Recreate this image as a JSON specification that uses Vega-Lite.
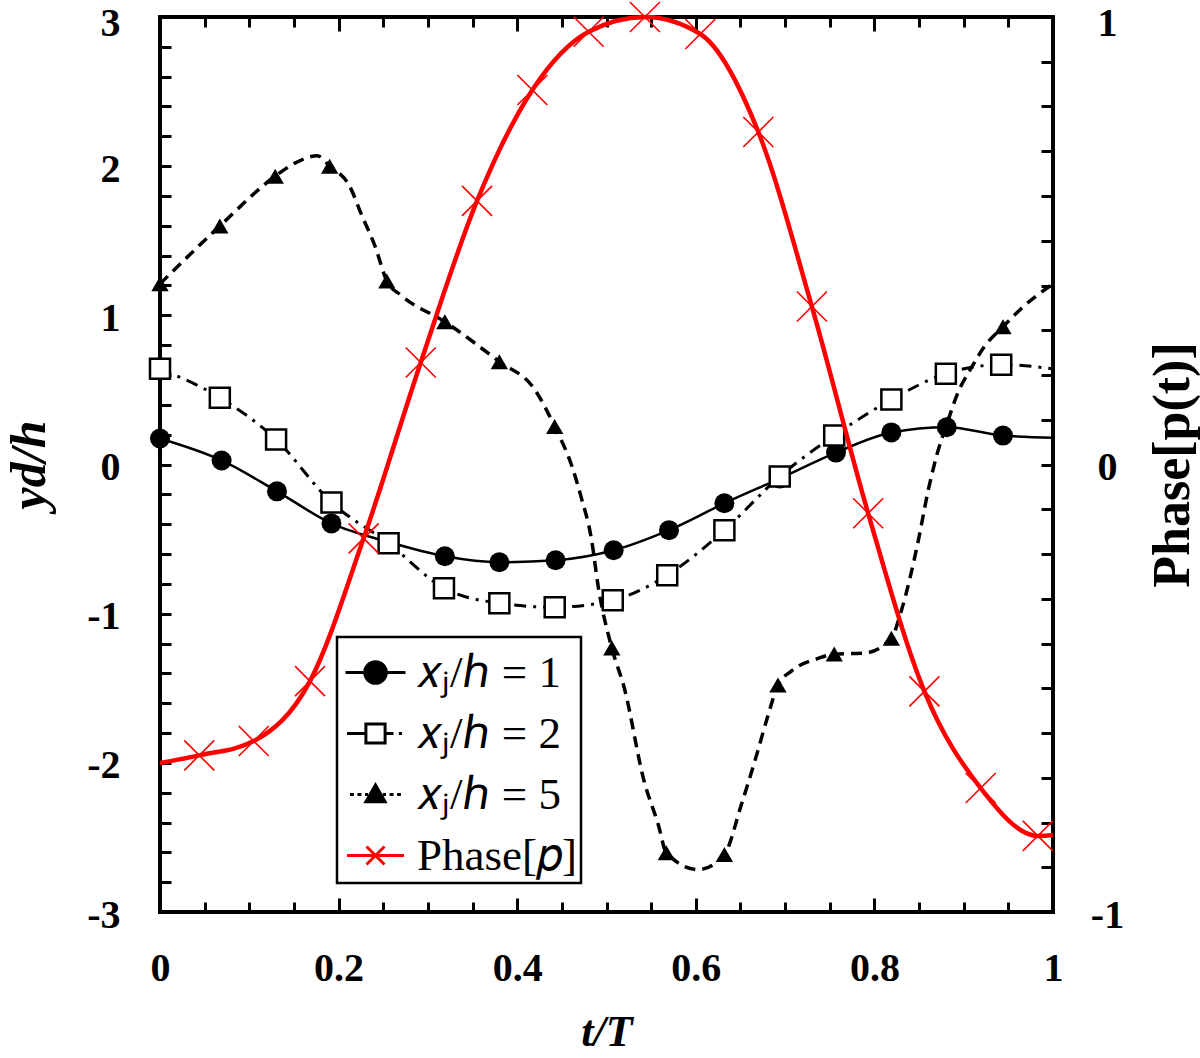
{
  "$schema": "https://vega.github.io/schema/vega-lite/v6.json",
  "width": 893,
  "height": 895,
  "autosize": "none",
  "padding": {"left": 160, "top": 17, "right": 147, "bottom": 146},
  "background": "white",
  "config": {
    "view": {"stroke": "black", "strokeWidth": 4},
    "axis": {
      "grid": false,
      "domain": false,
      "tickColor": "black",
      "tickWidth": 3,
      "labelColor": "black",
      "titleColor": "black",
      "labelFont": "Liberation Serif",
      "titleFont": "Liberation Serif",
      "labelFontWeight": "bold",
      "labelFontSize": 40,
      "titleFontSize": 46,
      "titleFontWeight": "bold",
      "labelFlush": false,
      "labelOverlap": false,
      "labelBound": false
    },
    "legend": {"strokeWidth": 2.5}
  },
  "datasets": {
    "line1": [
      {"t": 0, "v": 0.174}, {"t": 0.069, "v": 0.027}, {"t": 0.131, "v": -0.18},
      {"t": 0.192, "v": -0.395}, {"t": 0.256, "v": -0.52}, {"t": 0.319, "v": -0.615},
      {"t": 0.38, "v": -0.655}, {"t": 0.443, "v": -0.642}, {"t": 0.508, "v": -0.575},
      {"t": 0.57, "v": -0.44}, {"t": 0.632, "v": -0.26}, {"t": 0.694, "v": -0.094},
      {"t": 0.757, "v": 0.08}, {"t": 0.819, "v": 0.215}, {"t": 0.881, "v": 0.25},
      {"t": 0.944, "v": 0.194}, {"t": 1.0, "v": 0.18}
    ],
    "mark1": [
      {"t": 0, "v": 0.174}, {"t": 0.069, "v": 0.027}, {"t": 0.131, "v": -0.18},
      {"t": 0.192, "v": -0.395}, {"t": 0.256, "v": -0.52}, {"t": 0.319, "v": -0.615},
      {"t": 0.38, "v": -0.655}, {"t": 0.443, "v": -0.642}, {"t": 0.508, "v": -0.575},
      {"t": 0.57, "v": -0.44}, {"t": 0.632, "v": -0.26}, {"t": 0.694, "v": -0.094},
      {"t": 0.757, "v": 0.08}, {"t": 0.819, "v": 0.215}, {"t": 0.881, "v": 0.25},
      {"t": 0.944, "v": 0.194}
    ],
    "line2": [
      {"t": 0, "v": 0.642}, {"t": 0.067, "v": 0.448}, {"t": 0.13, "v": 0.167},
      {"t": 0.192, "v": -0.254}, {"t": 0.256, "v": -0.528}, {"t": 0.318, "v": -0.829},
      {"t": 0.38, "v": -0.93}, {"t": 0.442, "v": -0.957}, {"t": 0.507, "v": -0.91},
      {"t": 0.568, "v": -0.742}, {"t": 0.632, "v": -0.44}, {"t": 0.694, "v": -0.08},
      {"t": 0.755, "v": 0.194}, {"t": 0.819, "v": 0.435}, {"t": 0.88, "v": 0.609},
      {"t": 0.942, "v": 0.669}, {"t": 1.0, "v": 0.642}
    ],
    "mark2": [
      {"t": 0, "v": 0.642}, {"t": 0.067, "v": 0.448}, {"t": 0.13, "v": 0.167},
      {"t": 0.192, "v": -0.254}, {"t": 0.256, "v": -0.528}, {"t": 0.318, "v": -0.829},
      {"t": 0.38, "v": -0.93}, {"t": 0.442, "v": -0.957}, {"t": 0.507, "v": -0.91},
      {"t": 0.568, "v": -0.742}, {"t": 0.632, "v": -0.44}, {"t": 0.694, "v": -0.08},
      {"t": 0.755, "v": 0.194}, {"t": 0.819, "v": 0.435}, {"t": 0.88, "v": 0.609},
      {"t": 0.942, "v": 0.669}
    ],
    "line5": [
      {"t": 0, "v": 1.211}, {"t": 0.067, "v": 1.599}, {"t": 0.129, "v": 1.933},
      {"t": 0.151, "v": 2.02}, {"t": 0.176, "v": 2.07}, {"t": 0.19, "v": 2.0},
      {"t": 0.212, "v": 1.87}, {"t": 0.226, "v": 1.67}, {"t": 0.241, "v": 1.46},
      {"t": 0.254, "v": 1.231}, {"t": 0.271, "v": 1.13}, {"t": 0.319, "v": 0.957},
      {"t": 0.38, "v": 0.689}, {"t": 0.419, "v": 0.508}, {"t": 0.442, "v": 0.254},
      {"t": 0.461, "v": -0.007}, {"t": 0.472, "v": -0.227}, {"t": 0.483, "v": -0.495},
      {"t": 0.491, "v": -0.829}, {"t": 0.506, "v": -1.231}, {"t": 0.52, "v": -1.5},
      {"t": 0.542, "v": -2.12}, {"t": 0.558, "v": -2.415}, {"t": 0.567, "v": -2.602},
      {"t": 0.603, "v": -2.716}, {"t": 0.632, "v": -2.615}, {"t": 0.651, "v": -2.28},
      {"t": 0.666, "v": -1.99}, {"t": 0.681, "v": -1.68}, {"t": 0.692, "v": -1.478},
      {"t": 0.707, "v": -1.385}, {"t": 0.737, "v": -1.3}, {"t": 0.755, "v": -1.271},
      {"t": 0.789, "v": -1.264}, {"t": 0.819, "v": -1.164}, {"t": 0.83, "v": -0.983},
      {"t": 0.849, "v": -0.515}, {"t": 0.86, "v": -0.18}, {"t": 0.871, "v": 0.087},
      {"t": 0.881, "v": 0.27}, {"t": 0.894, "v": 0.488}, {"t": 0.908, "v": 0.642},
      {"t": 0.923, "v": 0.789}, {"t": 0.944, "v": 0.923}, {"t": 0.964, "v": 1.043},
      {"t": 1.0, "v": 1.211}
    ],
    "mark5": [
      {"t": 0, "v": 1.211}, {"t": 0.067, "v": 1.599}, {"t": 0.129, "v": 1.933},
      {"t": 0.19, "v": 2.0}, {"t": 0.254, "v": 1.231}, {"t": 0.319, "v": 0.957},
      {"t": 0.38, "v": 0.689}, {"t": 0.442, "v": 0.254}, {"t": 0.506, "v": -1.231},
      {"t": 0.567, "v": -2.602}, {"t": 0.632, "v": -2.615}, {"t": 0.692, "v": -1.478},
      {"t": 0.755, "v": -1.271}, {"t": 0.819, "v": -1.164}, {"t": 0.881, "v": 0.27},
      {"t": 0.944, "v": 0.923}
    ],
    "linePhase": [
      {"t": 0, "p": -0.667}, {"t": 0.044, "p": -0.65}, {"t": 0.105, "p": -0.618},
      {"t": 0.168, "p": -0.484}, {"t": 0.228, "p": -0.165}, {"t": 0.292, "p": 0.228},
      {"t": 0.355, "p": 0.589}, {"t": 0.417, "p": 0.837}, {"t": 0.48, "p": 0.967},
      {"t": 0.543, "p": 1.0}, {"t": 0.605, "p": 0.962}, {"t": 0.67, "p": 0.743},
      {"t": 0.73, "p": 0.353}, {"t": 0.793, "p": -0.109}, {"t": 0.856, "p": -0.507},
      {"t": 0.919, "p": -0.723}, {"t": 0.983, "p": -0.83}, {"t": 1.0, "p": -0.828}
    ],
    "markPhase": [
      {"t": 0.044, "p": -0.65}, {"t": 0.105, "p": -0.618},
      {"t": 0.168, "p": -0.484}, {"t": 0.228, "p": -0.165}, {"t": 0.292, "p": 0.228},
      {"t": 0.355, "p": 0.589}, {"t": 0.417, "p": 0.837}, {"t": 0.48, "p": 0.967},
      {"t": 0.543, "p": 1.0}, {"t": 0.605, "p": 0.962}, {"t": 0.67, "p": 0.743},
      {"t": 0.73, "p": 0.353}, {"t": 0.793, "p": -0.109}, {"t": 0.856, "p": -0.507},
      {"t": 0.919, "p": -0.723}, {"t": 0.983, "p": -0.83}
    ],
    "legendRows": [
      {"series": "𝑥ⱼ/ℎ = 1"}, {"series": "𝑥ⱼ/ℎ = 2"}, {"series": "𝑥ⱼ/ℎ = 5"}, {"series": "Phase[𝑝]"}
    ]
  },
  "layer": [
    {
      "data": {"name": "line1"},
      "mark": {"type": "line", "color": "black", "strokeWidth": 2.5, "interpolate": "monotone"},
      "encoding": {
        "x": {
          "field": "t", "type": "quantitative",
          "scale": {"domain": [0, 1], "nice": false, "zero": false},
          "axis": {
            "orient": "bottom", "values": [0, 0.2, 0.4, 0.6, 0.8, 1],
            "labelExpr": "'' + datum.value", "ticks": false, "labelPadding": 36,
            "title": "t/T", "titleFontStyle": "italic", "titlePadding": 22, "titleFontSize": 44
          }
        },
        "y": {
          "field": "v", "type": "quantitative",
          "scale": {"domain": [-3, 3], "nice": false, "zero": false},
          "axis": {
            "orient": "left", "values": [-3, -2, -1, 0, 1, 2, 3],
            "labelExpr": "'' + datum.value", "ticks": false, "labelPadding": 40,
            "labelOffset": {"condition": {"test": "datum.value == 3", "value": 6}, "value": 3},
            "title": "yd/h", "titleFontStyle": "italic", "titlePadding": 32, "titleFontSize": 50
          }
        }
      }
    },
    {
      "data": {"name": "line2"},
      "mark": {"type": "line", "color": "black", "strokeWidth": 3, "strokeDash": [12, 7, 3, 7], "interpolate": "monotone"},
      "encoding": {
        "x": {
          "field": "t", "type": "quantitative",
          "scale": {"domain": [0, 1], "nice": false, "zero": false},
          "axis": {
            "orient": "bottom",
            "values": [0.05, 0.1, 0.15, 0.25, 0.3, 0.35, 0.45, 0.5, 0.55, 0.65, 0.7, 0.75, 0.85, 0.9, 0.95],
            "labels": false, "tickSize": 10, "offset": -10, "title": null
          }
        },
        "y": {
          "field": "v", "type": "quantitative",
          "scale": {"domain": [-3, 3], "nice": false, "zero": false},
          "axis": {
            "orient": "left",
            "values": [-2.8, -2.6, -2.4, -2.2, -2, -1.8, -1.6, -1.4, -1.2, -1, -0.8, -0.6, -0.4, -0.2, 0, 0.2, 0.4, 0.6, 0.8, 1, 1.2, 1.4, 1.6, 1.8, 2, 2.2, 2.4, 2.6, 2.8],
            "labels": false, "tickSize": 11, "offset": -11, "title": null
          }
        }
      }
    },
    {
      "data": {"name": "line5"},
      "mark": {"type": "line", "color": "black", "strokeWidth": 3.5, "strokeDash": [11, 7], "interpolate": "monotone"},
      "encoding": {
        "x": {
          "field": "t", "type": "quantitative",
          "scale": {"domain": [0, 1], "nice": false, "zero": false},
          "axis": {
            "orient": "bottom", "values": [0.2, 0.4, 0.6, 0.8],
            "labels": false, "tickSize": 14, "offset": -14, "title": null
          }
        },
        "y": {
          "field": "v", "type": "quantitative",
          "scale": {"domain": [-3, 3], "nice": false, "zero": false},
          "axis": null
        }
      }
    },
    {
      "data": {"name": "mark5"},
      "mark": {"type": "point", "shape": "triangle-up", "filled": true, "color": "black", "size": 300, "opacity": 1},
      "encoding": {
        "x": {
          "field": "t", "type": "quantitative",
          "scale": {"domain": [0, 1], "nice": false, "zero": false},
          "axis": {
            "orient": "top",
            "values": [0.05, 0.1, 0.15, 0.25, 0.3, 0.35, 0.45, 0.5, 0.55, 0.65, 0.7, 0.75, 0.85, 0.9, 0.95],
            "labels": false, "tickSize": 10, "offset": -10, "title": null
          }
        },
        "y": {
          "field": "v", "type": "quantitative",
          "scale": {"domain": [-3, 3], "nice": false, "zero": false},
          "axis": null
        }
      }
    },
    {
      "data": {"name": "mark1"},
      "mark": {"type": "point", "shape": "circle", "filled": true, "color": "black", "size": 400, "opacity": 1},
      "encoding": {
        "x": {
          "field": "t", "type": "quantitative",
          "scale": {"domain": [0, 1], "nice": false, "zero": false},
          "axis": {
            "orient": "top", "values": [0.2, 0.4, 0.6, 0.8],
            "labels": false, "tickSize": 14, "offset": -14, "title": null
          }
        },
        "y": {
          "field": "v", "type": "quantitative",
          "scale": {"domain": [-3, 3], "nice": false, "zero": false},
          "axis": null
        }
      }
    },
    {
      "data": {"name": "mark2"},
      "mark": {"type": "point", "shape": "square", "filled": true, "fill": "white", "stroke": "black", "strokeWidth": 2.5, "size": 400, "opacity": 1},
      "encoding": {
        "x": {"field": "t", "type": "quantitative", "scale": {"domain": [0, 1], "nice": false, "zero": false}, "axis": null},
        "y": {"field": "v", "type": "quantitative", "scale": {"domain": [-3, 3], "nice": false, "zero": false}, "axis": null}
      }
    },
    {
      "data": {"name": "linePhase"},
      "mark": {"type": "line", "color": "#ff0000", "strokeWidth": 4.5, "interpolate": "monotone"},
      "encoding": {
        "x": {"field": "t", "type": "quantitative", "scale": {"domain": [0, 1], "nice": false, "zero": false}, "axis": null},
        "y": {
          "field": "p", "type": "quantitative",
          "scale": {"domain": [-1, 1], "nice": false, "zero": false},
          "axis": {
            "orient": "right", "values": [-1, 0, 1],
            "labelExpr": "'' + datum.value", "ticks": false, "labelPadding": 54, "labelAlign": "center",
            "labelOffset": {"condition": {"test": "datum.value == 1", "value": 6}, "value": 3},
            "title": "Phase[p(t)]", "titleAngle": 270, "titleBaseline": "top", "titlePadding": 24, "titleFontSize": 52
          }
        }
      }
    },
    {
      "data": {"name": "markPhase"},
      "mark": {"type": "point", "shape": "M -1 -1 L 1 1 M -1 1 L 1 -1", "filled": false, "color": "#ff0000", "strokeWidth": 1.6, "size": 900, "opacity": 1},
      "encoding": {
        "x": {"field": "t", "type": "quantitative", "scale": {"domain": [0, 1], "nice": false, "zero": false}, "axis": null},
        "y": {
          "field": "p", "type": "quantitative",
          "scale": {"domain": [-1, 1], "nice": false, "zero": false},
          "axis": {
            "orient": "right",
            "values": [-0.9, -0.8, -0.7, -0.6, -0.5, -0.4, -0.3, -0.2, -0.1, 0, 0.1, 0.2, 0.3, 0.4, 0.5, 0.6, 0.7, 0.8, 0.9],
            "labels": false, "tickSize": 12, "offset": -12, "title": null
          }
        }
      }
    },
    {
      "data": {"name": "legendRows"},
      "transform": [{"filter": "false"}],
      "mark": {"type": "point", "filled": true, "size": 3600, "strokeWidth": 3, "opacity": 1},
      "encoding": {
        "shape": {
          "field": "series", "type": "nominal",
          "scale": {
            "domain": ["𝑥ⱼ/ℎ = 1", "𝑥ⱼ/ℎ = 2", "𝑥ⱼ/ℎ = 5", "Phase[𝑝]"],
            "range": [
              "M -1 0 L 1 0 M 0.36 0 A 0.36 0.36 0 1 1 -0.36 0 A 0.36 0.36 0 1 1 0.36 0 Z",
              "M -0.95 0 L -0.32 0 M 0.32 0 L 0.6 0 M 0.78 0 L 0.88 0 M -0.32 -0.32 L 0.32 -0.32 L 0.32 0.32 L -0.32 0.32 Z",
              "M -0.85 0 L -0.72 0 M -0.6 0 L -0.47 0 M -0.35 0 L -0.25 0 M 0.25 0 L 0.35 0 M 0.47 0 L 0.6 0 M 0.72 0 L 0.85 0 M 0 -0.32 L 0.32 0.24 L -0.32 0.24 Z",
              "M -0.95 0 L 0.95 0 M -0.3 -0.3 L 0.3 0.3 M -0.3 0.3 L 0.3 -0.3"
            ]
          },
          "legend": {
            "orient": "none", "legendX": 177, "legendY": 620, "title": null,
            "strokeColor": "black", "fillColor": "white", "padding": 4,
            "labelFont": "Liberation Serif", "labelFontSize": 45, "labelColor": "black",
            "labelOffset": 10, "labelLimit": 0, "rowPadding": 6, "symbolOffset": 3,
            "symbolSize": 3600, "symbolStrokeWidth": 3, "symbolOpacity": 1
          }
        },
        "fill": {
          "field": "series", "type": "nominal",
          "scale": {
            "domain": ["𝑥ⱼ/ℎ = 1", "𝑥ⱼ/ℎ = 2", "𝑥ⱼ/ℎ = 5", "Phase[𝑝]"],
            "range": ["black", "white", "black", "#ff0000"]
          },
          "legend": {
            "orient": "none", "legendX": 177, "legendY": 620, "title": null,
            "strokeColor": "black", "fillColor": "white", "padding": 4,
            "labelFont": "Liberation Serif", "labelFontSize": 45, "labelColor": "black",
            "labelOffset": 10, "labelLimit": 0, "rowPadding": 6, "symbolOffset": 3,
            "symbolSize": 3600, "symbolStrokeWidth": 3, "symbolOpacity": 1
          }
        },
        "stroke": {
          "field": "series", "type": "nominal",
          "scale": {
            "domain": ["𝑥ⱼ/ℎ = 1", "𝑥ⱼ/ℎ = 2", "𝑥ⱼ/ℎ = 5", "Phase[𝑝]"],
            "range": ["black", "black", "black", "#ff0000"]
          },
          "legend": {
            "orient": "none", "legendX": 177, "legendY": 620, "title": null,
            "strokeColor": "black", "fillColor": "white", "padding": 4,
            "labelFont": "Liberation Serif", "labelFontSize": 45, "labelColor": "black",
            "labelOffset": 10, "labelLimit": 0, "rowPadding": 6, "symbolOffset": 3,
            "symbolSize": 3600, "symbolStrokeWidth": 3, "symbolOpacity": 1
          }
        }
      }
    }
  ],
  "resolve": {
    "scale": {"y": "independent"},
    "axis": {"x": "independent", "y": "independent"}
  }
}
